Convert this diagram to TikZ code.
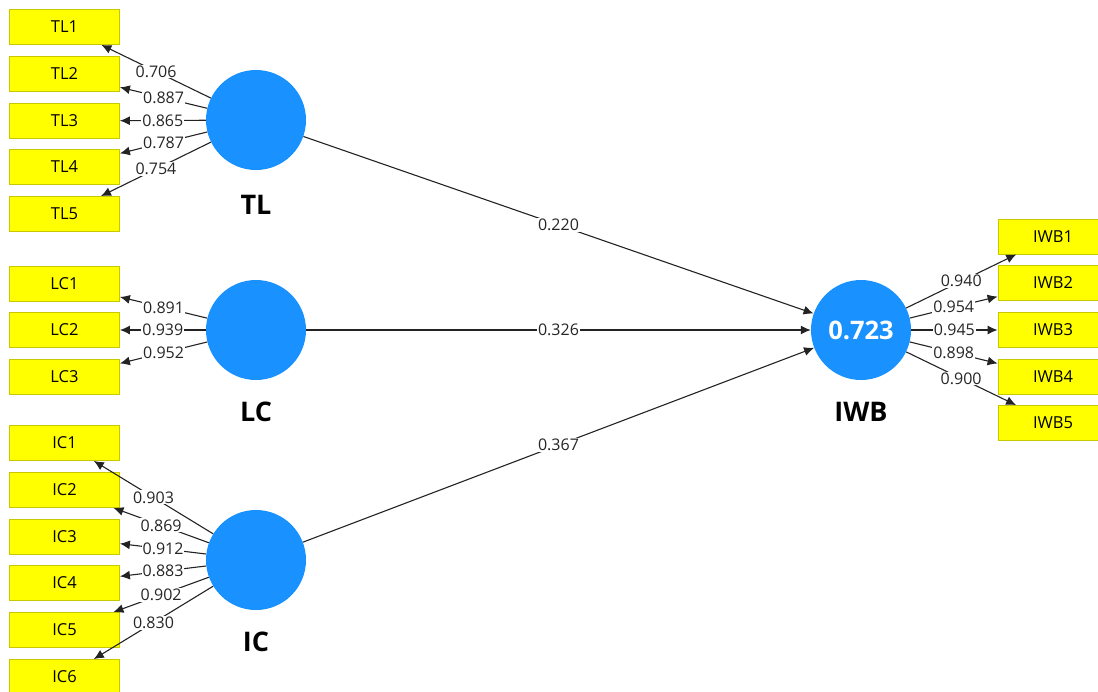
\documentclass[tikz,border=0pt]{standalone}
\usepackage{fontspec}
\setmainfont{Open Sans}
\usetikzlibrary{arrows.meta}
\definecolor{lvblue}{RGB}{25,145,255}
\definecolor{boxyel}{RGB}{255,255,0}
\definecolor{boxedge}{RGB}{200,200,0}
\definecolor{linegray}{RGB}{35,35,35}
\begin{document}
\begin{tikzpicture}[x=1pt,y=-1pt,
  lv/.style={circle,fill=lvblue,draw=none,minimum size=100pt,inner sep=0pt,text=white,font=\fontsize{25.5}{28}\selectfont\bfseries},
  ind/.style={rectangle,fill=boxyel,draw=boxedge,line width=0.8pt,minimum width=110pt,minimum height=35pt,inner sep=0pt,font=\fontsize{16.5}{18}\selectfont},
  lvname/.style={font=\fontsize{27}{30}\selectfont\bfseries,text=black},
  arr/.style={draw=linegray,line width=1.1pt,-{Latex[length=10pt,width=9pt]}},
  lbl/.style={fill=white,inner sep=1pt,text=black!85,font=\fontsize{16}{18}\selectfont}]
\useasboundingbox (0,0) rectangle (1098,691);
% latent variables
\node[lv] (TL) at (256,120) {};
\node[lv] (LC) at (256,330) {};
\node[lv] (IC) at (256,560) {};
\node[lv] (IWB) at (861,330) {0.723};
\node[lvname] (TLn) at (256,205) {TL};
\node[lvname] (LCn) at (256,412) {LC};
\node[lvname] (ICn) at (256,642) {IC};
\node[lvname] (IWBn) at (861,412) {IWB};
% indicators
\node[ind] (TL1) at (64.5,27) {TL1};
\node[ind] (TL2) at (64.5,74) {TL2};
\node[ind] (TL3) at (64.5,121) {TL3};
\node[ind] (TL4) at (64.5,167) {TL4};
\node[ind] (TL5) at (64.5,214) {TL5};
\node[ind] (LC1) at (64.5,283.5) {LC1};
\node[ind] (LC2) at (64.5,330) {LC2};
\node[ind] (LC3) at (64.5,377) {LC3};
\node[ind] (IC1) at (64.5,443) {IC1};
\node[ind] (IC2) at (64.5,490) {IC2};
\node[ind] (IC3) at (64.5,537) {IC3};
\node[ind] (IC4) at (64.5,583) {IC4};
\node[ind] (IC5) at (64.5,630) {IC5};
\node[ind] (IC6) at (64.5,677) {IC6};
\node[ind] (IWB1) at (1053,236.5) {IWB1};
\node[ind] (IWB2) at (1053,283) {IWB2};
\node[ind] (IWB3) at (1053,330) {IWB3};
\node[ind] (IWB4) at (1053,377) {IWB4};
\node[ind] (IWB5) at (1053,423) {IWB5};
% outer loadings
\draw[arr] (TL) -- node[lbl]{0.706} (TL1);
\draw[arr] (TL) -- node[lbl]{0.887} (TL2);
\draw[arr] (TL) -- node[lbl]{0.865} (TL3);
\draw[arr] (TL) -- node[lbl]{0.787} (TL4);
\draw[arr] (TL) -- node[lbl]{0.754} (TL5);
\draw[arr] (LC) -- node[lbl]{0.891} (LC1);
\draw[arr] (LC) -- node[lbl]{0.939} (LC2);
\draw[arr] (LC) -- node[lbl]{0.952} (LC3);
\draw[arr] (IC) -- node[lbl]{0.903} (IC1);
\draw[arr] (IC) -- node[lbl]{0.869} (IC2);
\draw[arr] (IC) -- node[lbl]{0.912} (IC3);
\draw[arr] (IC) -- node[lbl]{0.883} (IC4);
\draw[arr] (IC) -- node[lbl]{0.902} (IC5);
\draw[arr] (IC) -- node[lbl]{0.830} (IC6);
\draw[arr] (IWB) -- node[lbl]{0.940} (IWB1);
\draw[arr] (IWB) -- node[lbl]{0.954} (IWB2);
\draw[arr] (IWB) -- node[lbl]{0.945} (IWB3);
\draw[arr] (IWB) -- node[lbl]{0.898} (IWB4);
\draw[arr] (IWB) -- node[lbl]{0.900} (IWB5);
% structural paths
\draw[arr] (TL) -- node[lbl]{0.220} (IWB);
\draw[arr] (LC) -- node[lbl]{0.326} (IWB);
\draw[arr] (IC) -- node[lbl]{0.367} (IWB);
\end{tikzpicture}
\end{document}
